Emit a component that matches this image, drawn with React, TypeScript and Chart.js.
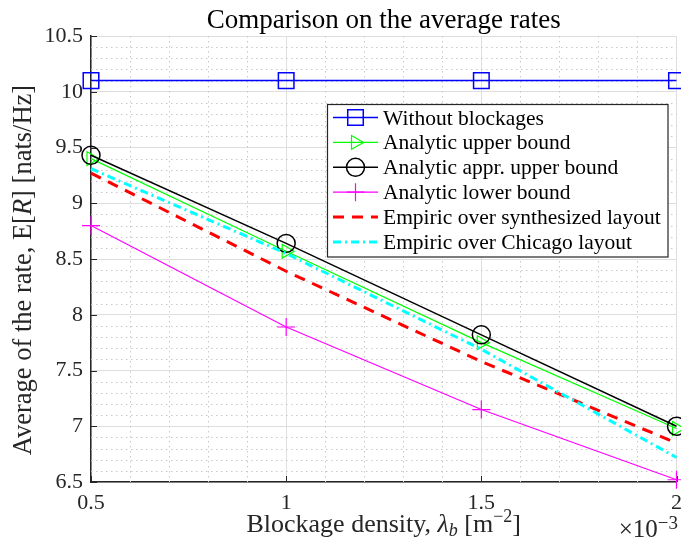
import React, { useEffect, useRef } from "react";
import { Chart, registerables } from "chart.js";

Chart.register(...registerables);

// Blockage density (units of 1e-3 m^-2)
const densities = [0.5, 1, 1.5, 2];
const withoutBlockages = [10.1, 10.1, 10.1, 10.1];
const analyticUpper = [9.4, 8.57, 7.75, 6.98];
const analyticApprUpper = [9.43, 8.64, 7.82, 7.0];
const analyticLower = [8.8, 7.89, 7.15, 6.52];
const empiricSynth = [9.27, 8.39, 7.58, 6.85];
const empiricChicago = [9.31, 8.55, 7.69, 6.72];

const seriesLabels = [
  "Without blockages",
  "Analytic upper bound",
  "Analytic appr. upper bound",
  "Analytic lower bound",
  "Empiric over synthesized layout",
  "Empiric over Chicago layout",
];

const xTicks = [0.5, 1, 1.5, 2];
const yTicks = [6.5, 7, 7.5, 8, 8.5, 9, 9.5, 10, 10.5];

const SERIF = "'Liberation Serif', 'Times New Roman', serif";
const AXIS_COLOR = "#262626";

type Run = { t: string; size: number; italic?: boolean; dy?: number };

function runsWidth(ctx: CanvasRenderingContext2D, runs: Run[]) {
  let w = 0;
  for (const r of runs) {
    ctx.font = `${r.italic ? "italic " : ""}${r.size}px ${SERIF}`;
    w += ctx.measureText(r.t).width;
  }
  return w;
}

function drawRuns(
  ctx: CanvasRenderingContext2D,
  runs: Run[],
  x: number,
  y: number,
  align: "left" | "center" | "right"
) {
  const w = runsWidth(ctx, runs);
  let cx = align === "left" ? x : align === "center" ? x - w / 2 : x - w;
  ctx.textAlign = "left";
  ctx.textBaseline = "alphabetic";
  for (const r of runs) {
    ctx.font = `${r.italic ? "italic " : ""}${r.size}px ${SERIF}`;
    ctx.fillText(r.t, cx, y + (r.dy || 0));
    cx += ctx.measureText(r.t).width;
  }
}

function drawMarker(
  ctx: CanvasRenderingContext2D,
  style: string,
  x: number,
  y: number,
  r: number,
  rot: number
) {
  ctx.beginPath();
  if (style === "rect") {
    const s = Math.SQRT1_2 * r;
    ctx.rect(x - s, y - s, 2 * s, 2 * s);
  } else if (style === "circle") {
    ctx.arc(x, y, r, 0, Math.PI * 2);
  } else if (style === "triangle") {
    let rad = (rot * Math.PI) / 180;
    ctx.moveTo(x + Math.sin(rad) * r, y - Math.cos(rad) * r);
    rad += (2 * Math.PI) / 3;
    ctx.lineTo(x + Math.sin(rad) * r, y - Math.cos(rad) * r);
    rad += (2 * Math.PI) / 3;
    ctx.lineTo(x + Math.sin(rad) * r, y - Math.cos(rad) * r);
    ctx.closePath();
  } else if (style === "cross") {
    ctx.moveTo(x - r, y);
    ctx.lineTo(x + r, y);
    ctx.moveTo(x, y - r);
    ctx.lineTo(x, y + r);
  }
  ctx.stroke();
}

const decorPlugin = {
  id: "decor",
  beforeDatasetsDraw(chart: any) {
    const { ctx, chartArea } = chart;
    const xs = chart.scales.x;
    const ys = chart.scales.y;
    ctx.save();
    // minor dotted grid
    ctx.strokeStyle = "#c8c8c8";
    ctx.lineWidth = 1;
    ctx.setLineDash([1.5, 3.5]);
    for (let i = 0; i <= 40; i++) {
      if (i % 5 === 0) continue;
      const v = 6.5 + i * 0.1;
      const py = Math.round(ys.getPixelForValue(v)) + 0.5;
      ctx.beginPath();
      ctx.moveTo(chartArea.left, py);
      ctx.lineTo(chartArea.right, py);
      ctx.stroke();
    }
    for (let i = 0; i <= 15; i++) {
      if (i % 5 === 0) continue;
      const v = 0.5 + i * 0.1;
      const px = Math.round(xs.getPixelForValue(v)) + 0.5;
      ctx.beginPath();
      ctx.moveTo(px, chartArea.top);
      ctx.lineTo(px, chartArea.bottom);
      ctx.stroke();
    }
    ctx.setLineDash([]);
    // inward major ticks
    ctx.strokeStyle = AXIS_COLOR;
    ctx.lineWidth = 1;
    for (const v of yTicks) {
      const py = Math.round(ys.getPixelForValue(v)) + 0.5;
      ctx.beginPath();
      ctx.moveTo(chartArea.left, py);
      ctx.lineTo(chartArea.left + 6, py);
      ctx.stroke();
    }
    for (const v of xTicks) {
      const px = Math.round(xs.getPixelForValue(v)) + 0.5;
      ctx.beginPath();
      ctx.moveTo(px, chartArea.bottom);
      ctx.lineTo(px, chartArea.bottom - 6);
      ctx.stroke();
    }
    ctx.restore();
  },
  afterDraw(chart: any) {
    const { ctx, chartArea } = chart;
    ctx.save();
    ctx.fillStyle = "#000";
    // Title
    drawRuns(
      ctx,
      [{ t: "Comparison on the average rates", size: 27 }],
      (chartArea.left + chartArea.right) / 2,
      28,
      "center"
    );
    ctx.fillStyle = AXIS_COLOR;
    // X title
    drawRuns(
      ctx,
      [
        { t: "Blockage density, ", size: 26 },
        { t: "λ", size: 26, italic: true },
        { t: "b", size: 18, italic: true, dy: 4 },
        { t: " [m", size: 26 },
        { t: "−2", size: 18, dy: -10 },
        { t: "]", size: 26 },
      ],
      (chartArea.left + chartArea.right) / 2,
      532,
      "center"
    );
    // exponent
    drawRuns(
      ctx,
      [
        { t: "×10", size: 25 },
        { t: "−3", size: 19, dy: -8 },
      ],
      678,
      537,
      "right"
    );
    // Y title
    ctx.save();
    ctx.translate(31, 270);
    ctx.rotate(-Math.PI / 2);
    drawRuns(
      ctx,
      [
        { t: "Average of the rate, E[", size: 26.5 },
        { t: "R", size: 26.5, italic: true },
        { t: "] [nats/Hz]", size: 26.5 },
      ],
      0,
      0,
      "center"
    );
    ctx.restore();

    // Legend
    const lx = 327.5,
      ly = 104.5,
      lw = 340.5,
      lh = 152.5;
    ctx.fillStyle = "#ffffff";
    ctx.fillRect(lx, ly, lw, lh);
    ctx.strokeStyle = AXIS_COLOR;
    ctx.lineWidth = 1.2;
    ctx.strokeRect(lx, ly, lw, lh);
    const datasets = chart.data.datasets;
    for (let i = 0; i < datasets.length; i++) {
      const ds = datasets[i];
      const cy = 117.5 + i * 24.9;
      ctx.save();
      ctx.strokeStyle = ds.borderColor;
      ctx.lineWidth = ds.borderWidth;
      ctx.setLineDash(ds.borderDash || []);
      ctx.beginPath();
      ctx.moveTo(333, cy);
      ctx.lineTo(378, cy);
      ctx.stroke();
      ctx.setLineDash([]);
      if (ds.pointRadius > 0) {
        ctx.strokeStyle = ds.pointBorderColor;
        ctx.lineWidth = ds.pointBorderWidth;
        drawMarker(ctx, ds.pointStyle, 355.5, cy, ds.pointRadius, ds.pointRotation || 0);
      }
      ctx.restore();
      ctx.fillStyle = "#000";
      drawRuns(ctx, [{ t: seriesLabels[i], size: 21.5 }], 383, cy + 7, "left");
    }
    ctx.restore();
  },
};

function pts(vals: number[]) {
  return densities.map((x, i) => ({ x, y: vals[i] }));
}

export default function App() {
  const ref = useRef<HTMLCanvasElement | null>(null);
  useEffect(() => {
    if (!ref.current) return;
    const common = {
      fill: false,
      tension: 0,
      clip: false as any,
      pointBackgroundColor: "rgba(0,0,0,0)",
      pointHoverRadius: 0,
    };
    const chart = new Chart(ref.current, {
      type: "line",
      data: {
        datasets: [
          {
            ...common,
            label: seriesLabels[0],
            data: pts(withoutBlockages),
            borderColor: "#0000ff",
            borderWidth: 1.5,
            pointStyle: "rect",
            pointRadius: 11,
            pointBorderColor: "#0000ff",
            pointBorderWidth: 1.5,
            order: 5,
          },
          {
            ...common,
            label: seriesLabels[1],
            data: pts(analyticUpper),
            borderColor: "#00ff00",
            borderWidth: 1.2,
            pointStyle: "triangle",
            pointRotation: 90,
            pointRadius: 8,
            pointBorderColor: "#00ff00",
            pointBorderWidth: 1.2,
            order: 4,
          },
          {
            ...common,
            label: seriesLabels[2],
            data: pts(analyticApprUpper),
            borderColor: "#000000",
            borderWidth: 1.5,
            pointStyle: "circle",
            pointRadius: 9,
            pointBorderColor: "#000000",
            pointBorderWidth: 1.5,
            order: 3,
          },
          {
            ...common,
            label: seriesLabels[3],
            data: pts(analyticLower),
            borderColor: "#ff00ff",
            borderWidth: 1.2,
            pointStyle: "cross",
            pointRadius: 9,
            pointBorderColor: "#ff00ff",
            pointBorderWidth: 1.2,
            order: 2,
          },
          {
            ...common,
            label: seriesLabels[4],
            data: pts(empiricSynth),
            borderColor: "#ff0000",
            borderWidth: 3,
            borderDash: [11, 8],
            pointRadius: 0,
            order: 1,
          },
          {
            ...common,
            label: seriesLabels[5],
            data: pts(empiricChicago),
            borderColor: "#00ffff",
            borderWidth: 3,
            borderDash: [8, 4, 2, 4],
            pointRadius: 0,
            order: 0,
          },
        ] as any,
      },
      options: {
        animation: false,
        responsive: false,
        devicePixelRatio: 1,
        layout: { autoPadding: false, padding: { left: 0, right: 4.5, top: 36, bottom: 0 } },
        plugins: {
          legend: { display: false },
          title: { display: false },
          tooltip: { enabled: false },
        },
        events: [],
        scales: {
          x: {
            type: "linear",
            min: 0.5,
            max: 2,
            afterBuildTicks: (s: any) => {
              s.ticks = xTicks.map((v) => ({ value: v }));
            },
            afterFit: (s: any) => {
              s.height = 64;
              s.paddingLeft = 0;
              s.paddingRight = 0;
            },
            ticks: {
              font: { family: SERIF, size: 22 },
              color: AXIS_COLOR,
              padding: 8,
              maxRotation: 0,
              autoSkip: false,
              callback: (v: any) => String(v),
            },
            grid: { color: "#dedede", lineWidth: 1, drawTicks: false },
            border: { color: AXIS_COLOR, width: 1.5 },
          },
          y: {
            type: "linear",
            min: 6.5,
            max: 10.5,
            afterBuildTicks: (s: any) => {
              s.ticks = yTicks.map((v) => ({ value: v }));
            },
            afterFit: (s: any) => {
              s.width = 91;
              s.paddingTop = 0;
              s.paddingBottom = 0;
            },
            ticks: {
              font: { family: SERIF, size: 22 },
              color: AXIS_COLOR,
              padding: 8,
              autoSkip: false,
              callback: (v: any) => String(v),
            },
            grid: { color: "#dedede", lineWidth: 1, drawTicks: false },
            border: { color: AXIS_COLOR, width: 1.5 },
          },
        },
      } as any,
      plugins: [decorPlugin],
    });
    return () => chart.destroy();
  }, []);
  return (
    <div style={{ position: "absolute", left: 0, top: 0, width: 681, height: 546, background: "#fff" }}>
      <canvas ref={ref} width={681} height={546} style={{ display: "block" }} />
    </div>
  );
}
